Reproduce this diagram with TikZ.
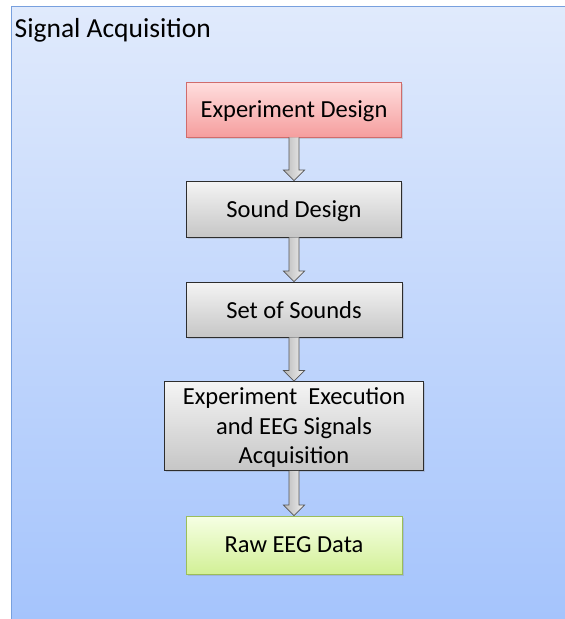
\documentclass[tikz,border=0pt]{standalone}
\usepackage{fontspec}
\setmainfont{Carlito}
\usetikzlibrary{shadows,calc}
\definecolor{bgtop}{RGB}{224,234,252}
\definecolor{bgbot}{RGB}{165,196,252}
\definecolor{frameblue}{RGB}{120,160,222}
\definecolor{redtop}{RGB}{255,222,222}
\definecolor{redbot}{RGB}{245,158,158}
\definecolor{redline}{RGB}{208,108,108}
\definecolor{graytop}{RGB}{244,244,244}
\definecolor{graybot}{RGB}{198,198,198}
\definecolor{grayline}{RGB}{45,45,45}
\definecolor{greentop}{RGB}{246,255,228}
\definecolor{greenbot}{RGB}{210,240,150}
\definecolor{greenline}{RGB}{155,190,90}
\definecolor{arrowline}{RGB}{85,85,85}
\newcommand\blkarrow[2]{%
  \shadedraw[blkarrowstyle]
    ($(#1.south)+(-5,0)$) -- ($(#2.north)+(-5,-10.5)$) -- ($(#2.north)+(-10.5,-10.5)$)
    -- (#2.north) -- ($(#2.north)+(10.5,-10.5)$) -- ($(#2.north)+(5,-10.5)$)
    -- ($(#1.south)+(5,0)$);}
\begin{document}
\begin{tikzpicture}[x=1pt,y=-1pt,
  boxbase/.style={rectangle, inner sep=2pt, align=center, text depth=0pt,
    font=\fontsize{24.5}{29.5}\selectfont, line width=0.9pt,
    drop shadow={opacity=0.25, shadow xshift=1.5pt, shadow yshift=-1.5pt}},
  redbox/.style={boxbase, draw=redline, top color=redtop, bottom color=redbot},
  graybox/.style={boxbase, draw=grayline, top color=graytop, bottom color=graybot},
  greenbox/.style={boxbase, draw=greenline, top color=greentop, bottom color=greenbot},
  blkarrowstyle/.style={draw=arrowline, line width=0.7pt, left color=gray!55, right color=gray!12},
  titlestyle/.style={anchor=base west, inner sep=0pt, font=\fontsize{27.5}{32}\selectfont}
]
\useasboundingbox (0,0) rectangle (565,619);
\fill[white] (0,0) rectangle (565,619);
\shade[top color=bgtop, bottom color=bgbot] (11,6) rectangle (566,620);
\draw[frameblue, line width=1pt] (566,6.5) -- (11.5,6.5) -- (11.5,620);
\node[titlestyle] (title) at (14.5,37) {Signal Acquisition};

\node[redbox, minimum width=215pt, minimum height=55pt] (ed) at (294,109.5) {Experiment Design};
\node[graybox, minimum width=215pt, minimum height=56pt] (sd) at (294,209) {Sound Design};
\node[graybox, minimum width=216pt, minimum height=55pt] (ss) at (294,309.5) {Set of Sounds};
\node[graybox, minimum width=259pt, minimum height=89pt] (ex) at (294,426)
  {Experiment~~Execution\\and EEG Signals\\Acquisition};
\node[greenbox, minimum width=216pt, minimum height=58pt] (raw) at (294,545) {Raw EEG Data};

\blkarrow{ed}{sd}
\blkarrow{sd}{ss}
\blkarrow{ss}{ex}
\blkarrow{ex}{raw}
\end{tikzpicture}
\end{document}
